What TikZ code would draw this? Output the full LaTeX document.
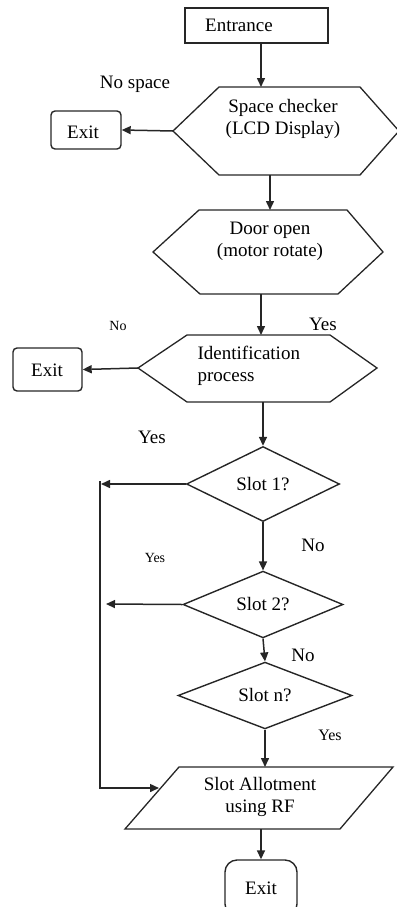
\documentclass[tikz,border=0pt]{standalone}
\usepackage{fontspec}
\setmainfont{Liberation Serif}
\usetikzlibrary{shapes.geometric,arrows.meta,calc}
\begin{document}
\begin{tikzpicture}[x=1pt,y=-1pt, line width=1.3pt, color=black!85,
  arr/.style={-{Triangle[length=9pt,width=8pt]}, line width=1.5pt},
  txt/.style={font=\fontsize{19}{22}\selectfont, inner sep=0pt, align=center, text=black},
  small/.style={font=\fontsize{14}{17}\selectfont, inner sep=0pt, text=black},
  boxn/.style={draw, line width=1.4pt, inner sep=0pt},
  exitn/.style={draw, line width=1.4pt, rounded corners=4pt, inner sep=0pt},
  dia/.style={draw, diamond, line width=1.4pt, inner sep=0pt, font=\fontsize{19}{22}\selectfont, text=black}]
\useasboundingbox (0,0) rectangle (396,907);

% Entrance
\node[boxn, minimum width=143pt, minimum height=35pt] (ent) at (256.5,25.5) {};
\node[txt] (entT) at (239,25) {Entrance};

% Hexagon 1
\coordinate (h1a) at (219,87);  \coordinate (h1b) at (360,87);
\coordinate (h1r) at (399,131); \coordinate (h1c) at (360,175);
\coordinate (h1d) at (219,175); \coordinate (h1l) at (173,131);
\draw (h1a) -- (h1b) -- (h1r) -- (h1c) -- (h1d) -- (h1l) -- cycle;
\node[txt] (h1T) at (283,119) {Space checker\\(LCD Display)};
\coordinate (h1in) at (261,87);
\coordinate (h1out) at (270,175);

% Exit 1
\node[exitn, minimum width=70pt, minimum height=38pt] (ex1) at (86,130) {};
\node[txt] (ex1T) at (83,132) {Exit};

% Hexagon 2
\coordinate (h2a) at (199,210); \coordinate (h2b) at (347,210);
\coordinate (h2r) at (383,252); \coordinate (h2c) at (338,294);
\coordinate (h2d) at (200,294); \coordinate (h2l) at (153,252);
\draw (h2a) -- (h2b) -- (h2r) -- (h2c) -- (h2d) -- (h2l) -- cycle;
\node[txt] (h2T) at (270,241.5) {Door open\\(motor rotate)};
\coordinate (h2in) at (270,210);
\coordinate (h2out) at (261,294);

% Hexagon 3
\coordinate (h3a) at (187,335); \coordinate (h3b) at (330,335);
\coordinate (h3r) at (377,368); \coordinate (h3c) at (330,402);
\coordinate (h3d) at (187,402); \coordinate (h3l) at (138,368);
\draw (h3a) -- (h3b) -- (h3r) -- (h3c) -- (h3d) -- (h3l) -- cycle;
\node[txt, align=left, anchor=west] (h3T) at (197,366) {Identification\\process};
\coordinate (h3in) at (261,335);
\coordinate (h3out) at (263,402);

% Exit 2
\node[exitn, minimum width=69pt, minimum height=43pt] (ex2) at (47.5,369.5) {};
\node[txt] (ex2T) at (47,370) {Exit};

% Slots
\node[dia, minimum width=153pt, minimum height=75pt] (s1) at (263,484) {Slot 1?};
\node[dia, minimum width=160pt, minimum height=63pt] (s2) at (263,604.5) {Slot 2?};
\node[dia, minimum width=174pt, minimum height=57pt] (sn) at (265,695.5) {Slot n?};

% Parallelogram
\coordinate (pa) at (179,767); \coordinate (pb) at (393,767);
\coordinate (pc) at (340,829); \coordinate (pd) at (125,829);
\draw (pa) -- (pb) -- (pc) -- (pd) -- cycle;
\node[txt] (pT) at (260,797) {Slot Allotment\\using RF};
\coordinate (pin) at (265,767);
\coordinate (pout) at (261,829);
\coordinate (pleft) at (159,788);

% Exit 3
\node[draw, line width=1.4pt, rounded corners=12pt, minimum width=72pt, minimum height=56pt, inner sep=0pt] (ex3) at (261,888) {};
\node[txt] (ex3T) at (261,888) {Exit};

% Left bus
\coordinate (y1) at (101,484);
\coordinate (y2) at (106,604);
\coordinate (vtop) at (100,481);
\coordinate (vbot) at (100,788);

% Connectors
\draw[arr] (ent.south -| h1in) -- (h1in);
\draw[arr] (h1l) -- (ex1.east);
\draw[arr] (h1out) -- (h2in);
\draw[arr] (h2out) -- (h3in);
\draw[arr] (h3l) -- (ex2.east);
\draw[arr] (h3out) -- (s1.north);
\draw[arr] (s1.west) -- (y1);
\draw[arr] (s1.south) -- (s2.north);
\draw[arr] (s2.west) -- (y2);
\draw[arr] (s2.south) -- (sn.north);
\draw[arr] (sn.south) -- (pin);
\draw[arr] (vtop) -- (vbot) -- (pleft);
\draw[arr] (pout) -- (ex3.north);

% Labels
\node[txt] (lNoSpace) at (135,84) {No space};
\node[small] (lNo1) at (118,326) {No};
\node[txt] (lYes1) at (323,324) {Yes};
\node[txt] (lYes2) at (152,437) {Yes};
\node[txt] (lNo2) at (313,545) {No};
\node[small] (lYes3) at (155,558) {Yes};
\node[txt] (lNo3) at (303,655) {No};
\node[txt, font=\fontsize{16}{19}\selectfont] (lYes4) at (330,735) {Yes};
\end{tikzpicture}
\end{document}
